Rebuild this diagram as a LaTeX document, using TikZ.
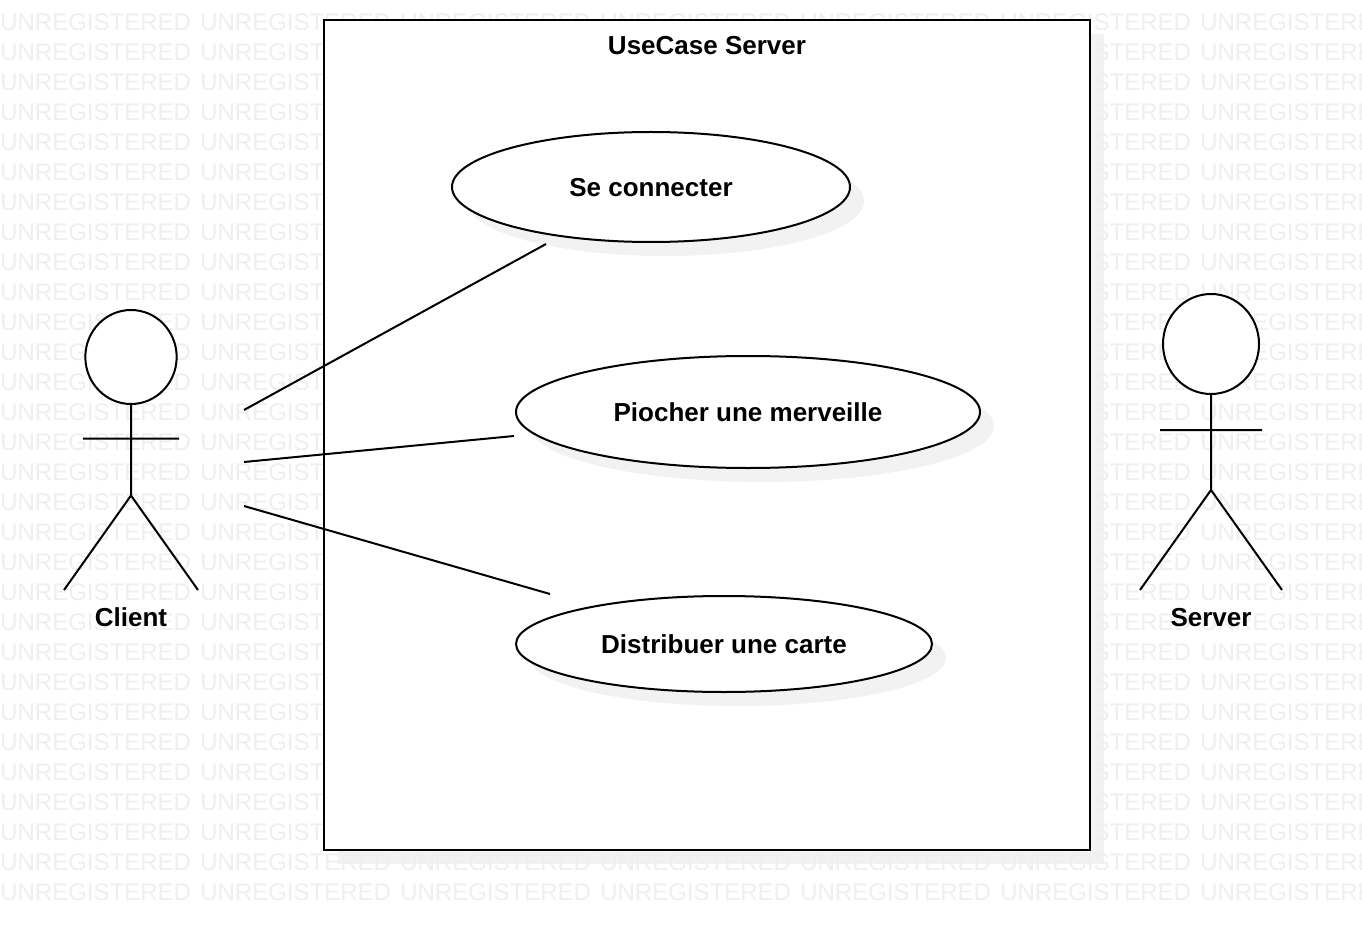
\documentclass[tikz,border=0pt]{standalone}
\usepackage{fontspec}
\setmainfont{Liberation Sans}
\definecolor{wm}{HTML}{EFEFEF}
\definecolor{shade}{HTML}{F2F2F2}
\usetikzlibrary{shapes.geometric}
\tikzset{
  x=0.75pt,y=-0.75pt,
  thinline/.style={draw=black,line width=1.5pt},
  shadowshape/.style={fill=shade,draw=none},
  usecase/.style={ellipse,draw=black,line width=1.5pt,fill=white,inner sep=0pt,outer sep=0pt},
  label/.style={inner sep=0pt,font=\fontsize{19.5pt}{24pt}\selectfont\bfseries},
  water/.style={inner sep=0pt,anchor=west,text=wm,font=\fontsize{18pt}{22pt}\selectfont},
  headshape/.style={ellipse,draw=black,line width=1.5pt,fill=white,inner sep=0pt,outer sep=0pt}
}
\begin{document}
\begin{tikzpicture}
\path[use as bounding box] (0,0) rectangle (1362,930);
\clip (0,0) rectangle (1362,930);
\fill[white] (0,0) rectangle (1362,930);
% shadows
\fill[shadowshape] (338,34) rectangle (1104,864);
% watermark
\foreach \r in {0,...,29}{
  \foreach \c in {0,...,6}{
    \node[water] (wm-\r-\c) at ({\c*200},{22+\r*30}) {UNREGISTERED};
  }
}
% system box
\node[draw=black,line width=1.5pt,fill=white,minimum width=574.5pt,minimum height=622.5pt,inner sep=0pt,outer sep=0pt,anchor=north west] (sys) at (324,20) {};
\node[label] (title) at (707,46) {UseCase Server};
% ellipse shadows
\fill[shadowshape] (665,201) ellipse [x radius=199,y radius=55];
\fill[shadowshape] (762,426) ellipse [x radius=232,y radius=56];
\fill[shadowshape] (738,658) ellipse [x radius=208,y radius=48];
% use cases
\node[usecase,minimum width=298.5pt,minimum height=82.5pt] (uc1) at (651,187) {};
\node[label] (uc1text) at (651,188) {Se connecter};
\node[usecase,minimum width=348pt,minimum height=84pt] (uc2) at (748,412) {};
\node[label] (uc2text) at (748,412) {Piocher une merveille};
\node[usecase,minimum width=312pt,minimum height=72pt] (uc3) at (724,644) {};
\node[label] (uc3text) at (724,644) {Distribuer une carte};
% client actor
\node[headshape,minimum width=68.5pt,minimum height=70.5pt] (chead) at (131,357) {};
\coordinate (cbody) at (131,495.5);
\coordinate (carml) at (83,438.5);
\coordinate (carmr) at (179,438.5);
\coordinate (clegl) at (64,590);
\coordinate (clegr) at (198,590);
\draw[thinline] (chead.south) -- (cbody) (carml) -- (carmr) (clegl) -- (cbody) -- (clegr);
\node[label] (client) at (131,617) {Client};
% server actor
\node[headshape,minimum width=72pt,minimum height=75pt] (shead) at (1211,344) {};
\coordinate (sbody) at (1211,490);
\coordinate (sarml) at (1160,430);
\coordinate (sarmr) at (1262,430);
\coordinate (slegl) at (1140,590);
\coordinate (slegr) at (1282,590);
\draw[thinline] (shead.south) -- (sbody) (sarml) -- (sarmr) (slegl) -- (sbody) -- (slegr);
\node[label] (server) at (1211,618) {Server};
% connectors
\coordinate (a1) at (244,410);
\coordinate (b1) at (546,244);
\coordinate (a2) at (244,462);
\coordinate (b2) at (514,436);
\coordinate (a3) at (244,506);
\coordinate (b3) at (550,594);
\draw[thinline] (a1) -- (b1);
\draw[thinline] (a2) -- (b2);
\draw[thinline] (a3) -- (b3);
\end{tikzpicture}
\end{document}
